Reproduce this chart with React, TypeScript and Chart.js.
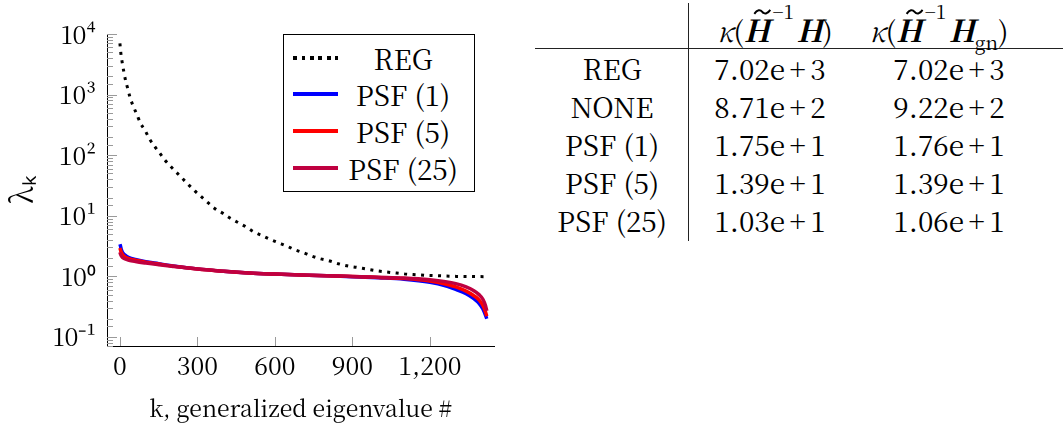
import React, { useEffect, useRef } from 'react';
import { Chart, registerables } from 'chart.js';

Chart.register(...registerables);

// ---------- data ----------
const K_REG = [0, 4, 9, 15, 22, 31, 40, 52, 66, 79, 98, 113, 132, 155, 174, 194, 219, 245, 265, 290, 316, 342, 368, 400, 426, 458, 490, 516, 548, 581, 613, 645, 677, 710, 742, 774, 813, 845, 884, 916, 955, 994, 1032, 1071, 1110, 1148, 1187, 1226, 1265, 1303, 1350, 1415];
const REG = [7020, 4670, 3360, 2400, 1700, 1230, 875, 638, 464, 341, 254, 190, 144, 107, 83, 67, 52, 40, 32.7, 25.7, 20.5, 16.3, 13.1, 10.9, 9.2, 7.7, 6.5, 5.5, 4.76, 4.09, 3.6, 3.17, 2.76, 2.46, 2.17, 1.96, 1.79, 1.62, 1.48, 1.41, 1.32, 1.24, 1.18, 1.135, 1.09, 1.066, 1.04, 1.026, 1.013, 1.0, 0.995, 0.99];

const K_PSF = [0, 2, 5, 10, 20, 35, 60, 100, 150, 200, 300, 400, 500, 600, 700, 800, 900, 1000, 1100, 1200, 1260, 1300, 1340, 1370, 1390, 1405, 1415, 1420];
const PSF1 = [3.4, 3.2, 2.8, 2.5, 2.25, 2.05, 1.9, 1.75, 1.62, 1.5, 1.33, 1.22, 1.14, 1.09, 1.05, 1.02, 0.99, 0.95, 0.9, 0.8, 0.7, 0.61, 0.52, 0.43, 0.36, 0.29, 0.23, 0.2];
const PSF5 = [2.95, 2.75, 2.5, 2.3, 2.1, 1.97, 1.85, 1.72, 1.6, 1.49, 1.33, 1.22, 1.14, 1.09, 1.05, 1.02, 1.0, 0.96, 0.92, 0.84, 0.75, 0.67, 0.57, 0.48, 0.41, 0.33, 0.26, 0.22];
const PSF25 = [2.5, 2.35, 2.2, 2.05, 1.95, 1.85, 1.76, 1.66, 1.56, 1.47, 1.32, 1.22, 1.14, 1.09, 1.05, 1.02, 1.0, 0.97, 0.94, 0.88, 0.82, 0.76, 0.67, 0.58, 0.5, 0.42, 0.33, 0.27];

const X_TICKS = [0, 300, 600, 900, 1200];
const SERIES_LABELS = ['REG', 'PSF (1)', 'PSF (5)', 'PSF (25)'];
const SERIES_COLORS = ['#000000', '#0000ff', '#ff0000', '#bf0040'];

const ROW_LABELS = ['REG', 'NONE', 'PSF (1)', 'PSF (5)', 'PSF (25)'];
const KAPPA_H = ['7.02e+3', '8.71e+2', '1.75e+1', '1.39e+1', '1.03e+1'];
const KAPPA_HGN = ['7.02e+3', '9.22e+2', '1.76e+1', '1.39e+1', '1.06e+1'];

// ---------- layout constants ----------
const FONT = '"Noto Serif CJK SC", "Liberation Serif", serif';
const ROW_Y = [67.5, 106, 144, 182, 220];
const COL_X = [612, 770, 949];
const HEADER_X = [775, 939];
const HEADER_Y = 29;

const SUP: Record<string, string> = { '-': '\u207B', '0': '\u2070', '1': '\u00B9', '2': '\u00B2', '3': '\u00B3', '4': '\u2074' };
const supStr = (n: number) => String(n).split('').map((c) => SUP[c] || c).join('');

const pts = (xs: number[], ys: number[]) => xs.map((x, i) => ({ x, y: ys[i] }));

const innerTicks = {
  id: 'innerTicks',
  beforeDatasetsDraw(chart: any) {
    const { ctx, chartArea, scales } = chart;
    const ys = scales.y;
    const xs = scales.x;
    ctx.save();
    ctx.strokeStyle = '#9a9a9a';
    ctx.lineWidth = 1;
    ctx.beginPath();
    for (const t of ys.ticks) {
      const v = t.value;
      if (v < ys.min - 1e-12 || v > ys.max + 1e-9) continue;
      const lg = Math.log10(v);
      const major = Math.abs(lg - Math.round(lg)) < 1e-9;
      const py = Math.round(ys.getPixelForValue(v)) + 0.5;
      const len = major ? 10 : 6;
      ctx.moveTo(chartArea.left, py);
      ctx.lineTo(chartArea.left + len, py);
    }
    for (const t of xs.ticks) {
      const px = Math.round(xs.getPixelForValue(t.value)) + 0.5;
      ctx.moveTo(px, chartArea.bottom);
      ctx.lineTo(px, chartArea.bottom - 9);
    }
    ctx.stroke();
    ctx.restore();
  },
};

function EigenChart() {
  const ref = useRef<HTMLCanvasElement | null>(null);
  useEffect(() => {
    if (!ref.current) return;
    const chart = new Chart(ref.current, {
      type: 'line',
      data: {
        datasets: [
          {
            label: SERIES_LABELS[1],
            data: pts(K_PSF, PSF1),
            borderColor: SERIES_COLORS[1],
            borderWidth: 3.5,
            pointRadius: 0,
            cubicInterpolationMode: 'monotone',
            order: 3,
          },
          {
            label: SERIES_LABELS[2],
            data: pts(K_PSF, PSF5),
            borderColor: SERIES_COLORS[2],
            borderWidth: 3.5,
            pointRadius: 0,
            cubicInterpolationMode: 'monotone',
            order: 2,
          },
          {
            label: SERIES_LABELS[3],
            data: pts(K_PSF, PSF25),
            borderColor: SERIES_COLORS[3],
            borderWidth: 3.5,
            pointRadius: 0,
            cubicInterpolationMode: 'monotone',
            order: 1,
          },
          {
            label: SERIES_LABELS[0],
            data: pts(K_REG, REG),
            borderColor: SERIES_COLORS[0],
            borderWidth: 3,
            borderDash: [3, 5.5],
            borderCapStyle: 'butt',
            pointRadius: 0,
            cubicInterpolationMode: 'monotone',
            order: 0,
          },
        ],
      },
      options: {
        responsive: false,
        animation: false,
        layout: { padding: { top: 34, right: 26, left: 0, bottom: 0 } },
        plugins: { legend: { display: false }, tooltip: { enabled: false } },
        scales: {
          x: {
            type: 'linear',
            min: -50,
            max: 1448,
            afterBuildTicks: (s: any) => {
              s.ticks = X_TICKS.map((v) => ({ value: v }));
            },
            afterFit: (s: any) => {
              s.height = 80;
            },
            grid: { drawOnChartArea: false, drawTicks: false },
            border: { display: true, color: '#000', width: 1 },
            ticks: { color: '#000', font: { family: FONT, size: 25 }, padding: 4, maxRotation: 0, autoSkip: false },
            title: {
              display: true,
              text: 'k, generalized eigenvalue #',
              color: '#000',
              font: { family: FONT, size: 23 },
              padding: { top: 0, bottom: 4 },
            },
          },
          y: {
            type: 'logarithmic',
            min: 0.071,
            max: 10000,
            afterFit: (s: any) => {
              s.width = 107;
            },
            grid: { drawOnChartArea: false, drawTicks: false },
            border: { display: true, color: '#000', width: 1 },
            ticks: {
              color: '#000',
              font: { family: FONT, size: 25 },
              padding: 11,
              autoSkip: false,
              callback: (v: any) => {
                const lg = Math.log10(Number(v));
                const e = Math.round(lg);
                return Math.abs(lg - e) < 1e-9 ? '10' + supStr(e) : '';
              },
            },
            title: {
              display: true,
              text: '\u03BB\u2096',
              color: '#000',
              font: { family: FONT, size: 30 },
              padding: { top: 4, bottom: 0 },
            },
          },
        },
      },
      plugins: [innerTicks],
    } as any);
    return () => chart.destroy();
  }, []);
  return <canvas ref={ref} width={520} height={426} style={{ position: 'absolute', left: 0, top: 0 }} />;
}

const center = (x: number, y: number): React.CSSProperties => ({
  position: 'absolute',
  left: x,
  top: y,
  transform: 'translate(-50%, -50%)',
  lineHeight: 1,
  whiteSpace: 'nowrap',
});

function Num({ s }: { s: string }) {
  const [a, b] = s.split('+');
  return (
    <span>
      {a}
      <span style={{ margin: '0 0.16em' }}>+</span>
      {b}
    </span>
  );
}

function Header({ gn }: { gn: boolean }) {
  const bi: React.CSSProperties = { fontWeight: 'bold', fontStyle: 'italic', fontSize: '1.08em' };
  return (
    <span>
      <i>κ</i>(
      <span style={{ ...bi, position: 'relative', display: 'inline-block', paddingRight: '0.04em' }}>
        H
        <svg
          width="18"
          height="6"
          viewBox="0 0 18 6"
          style={{ position: 'absolute', left: '0.32em', top: '-0.16em' }}
        >
          <path d="M1 5 C4 0.5, 7 0.5, 9 3 C11 5.5, 14 5.5, 17 1" fill="none" stroke="#000" strokeWidth="2" />
        </svg>
      </span>
      <span style={{ fontSize: '0.68em', position: 'relative', top: '-1.2em', marginLeft: '0.08em' }}>−1</span>
      <span style={{ ...bi, marginLeft: '0.08em' }}>H</span>
      {gn ? <span style={{ fontSize: '0.68em', position: 'relative', top: '0.4em' }}>gn</span> : null})
    </span>
  );
}

function Legend() {
  const rowY = [23, 59, 96, 133];
  return (
    <div
      style={{
        position: 'absolute',
        left: 283,
        top: 34,
        width: 192,
        height: 158,
        border: '1px solid #000',
        boxSizing: 'border-box',
        background: '#fff',
        fontSize: 28,
      }}
    >
      {SERIES_LABELS.map((lab, i) => (
        <React.Fragment key={lab}>
          <div
            style={{
              position: 'absolute',
              left: 9,
              top: rowY[i] - 2,
              width: 45,
              height: i === 0 ? 3.5 : 4,
              background:
                i === 0
                  ? 'repeating-linear-gradient(to right, #000 0px, #000 3.5px, transparent 3.5px, transparent 8.5px)'
                  : SERIES_COLORS[i],
            }}
          />
          <div style={center(119, rowY[i])}>{lab}</div>
        </React.Fragment>
      ))}
    </div>
  );
}

function Table() {
  return (
    <div style={{ position: 'absolute', left: 0, top: 0, fontSize: 28 }}>
      <div style={{ position: 'absolute', left: 688, top: 3, width: 1, height: 238, background: '#222' }} />
      <div style={{ position: 'absolute', left: 535, top: 48, width: 528, height: 1.3, background: '#222' }} />
      <div style={center(HEADER_X[0], HEADER_Y)}>
        <Header gn={false} />
      </div>
      <div style={center(HEADER_X[1], HEADER_Y)}>
        <Header gn={true} />
      </div>
      {ROW_LABELS.map((lab, i) => (
        <React.Fragment key={lab}>
          <div style={center(COL_X[0], ROW_Y[i])}>{lab}</div>
          <div style={center(COL_X[1], ROW_Y[i])}>
            <Num s={KAPPA_H[i]} />
          </div>
          <div style={center(COL_X[2], ROW_Y[i])}>
            <Num s={KAPPA_HGN[i]} />
          </div>
        </React.Fragment>
      ))}
    </div>
  );
}

export default function App() {
  return (
    <div
      style={{
        position: 'absolute',
        left: 0,
        top: 0,
        width: 1063,
        height: 426,
        background: '#fff',
        overflow: 'hidden',
        fontFamily: FONT,
        color: '#000',
      }}
    >
      <EigenChart />
      <Legend />
      <Table />
    </div>
  );
}
